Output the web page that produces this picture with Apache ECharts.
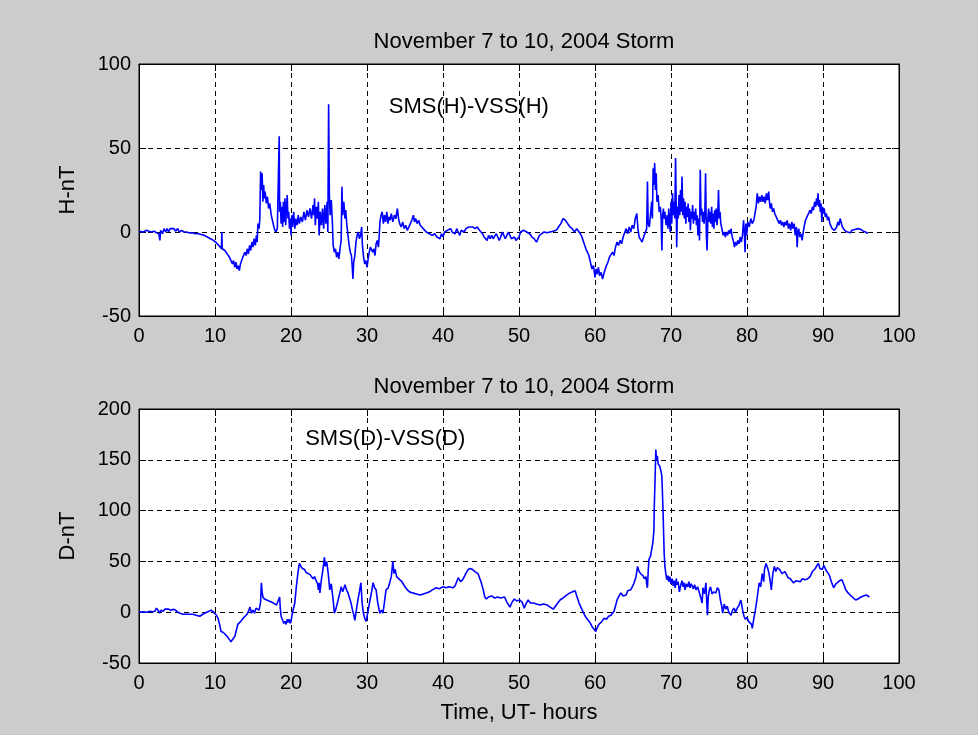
<!DOCTYPE html>
<html>
<head>
<meta charset="utf-8">
<script src="https://cdn.jsdelivr.net/npm/echarts@6/dist/echarts.min.js"></script>
<style>
html,body{margin:0;padding:0;background:#cccccc;}
#chart{width:978px;height:735px;}
</style>
</head>
<body>
<div id="chart"></div>
<script>
var chartTitle = 'November 7 to 10, 2004 Storm';
var xTitle = 'Time, UT- hours';
var hName = 'H-nT';
var dName = 'D-nT';
var hLabel = 'SMS(H)-VSS(H)';
var dLabel = 'SMS(D)-VSS(D)';
var hLabelAt = [43.4, 74.5];
var dLabelAt = [32.4, 171];

// [UT hours, nT]
var hSeries = [[0,0],[0.3,0.3],[0.6,0],[1,1],[1.3,0.5],[1.6,0],[2,0.5],[2.3,-0.5],[2.6,-1],[2.75,-5],[2.85,1],[3.1,-1],[3.3,2],[3.5,0],[3.7,2],[3.9,0],[4.1,2],[4.3,1],[4.6,2],[4.8,0.5],[5.1,2],[5.3,0],[5.6,1],[5.9,0],[6.2,0],[6.6,-0.5],[7,-0.5],[7.4,-1],[7.8,-1],[8.2,-1.5],[8.6,-2],[9,-3],[9.4,-4],[9.8,-5],[10.2,-6.5],[10.6,-8.5],[10.85,-10],[10.9,0],[10.95,-10],[11.3,-11],[11.6,-13],[11.9,-15],[12.1,-17],[12.3,-19],[12.45,-17],[12.6,-21],[12.75,-18],[12.9,-22],[13.05,-20],[13.2,-23],[13.35,-19],[13.5,-18],[13.65,-15],[13.8,-16],[13.95,-12],[14.1,-14],[14.25,-10],[14.4,-13],[14.55,-8],[14.7,-11],[14.85,-6],[15,-9],[15.15,-4],[15.3,-8],[15.45,-2],[15.55,-6],[15.65,5],[15.8,2],[15.9,8],[16.0,36],[16.1,25],[16.2,35],[16.3,18],[16.4,28],[16.5,20],[16.6,24],[16.75,17],[16.9,21],[17.05,14],[17.2,17],[17.4,10],[17.6,6],[17.8,2],[18.0,0],[18.2,2],[18.35,1],[18.45,57],[18.5,12],[18.6,18],[18.7,5],[18.8,15],[18.9,3],[19.0,18],[19.1,6],[19.2,20],[19.3,4],[19.4,15],[19.5,22],[19.6,8],[19.7,12],[19.8,2],[19.9,8],[20,-2],[20.1,10],[20.2,3],[20.35,12],[20.5,2],[20.65,8],[20.8,4],[20.95,10],[21.1,5],[21.3,9],[21.5,6],[21.7,12],[21.9,7],[22.1,13],[22.3,9],[22.5,14],[22.7,8],[22.9,16],[23.0,10],[23.1,20],[23.2,4],[23.35,15],[23.5,8],[23.6,18],[23.7,-2],[23.85,12],[24,4],[24.15,14],[24.3,2],[24.45,16],[24.6,5],[24.75,18],[24.85,0],[24.95,76],[25.05,22],[25.15,10],[25.3,19],[25.45,5],[25.55,-8],[25.7,-12],[25.85,-10],[26.0,-15],[26.15,-12],[26.3,-16],[26.45,-10],[26.6,-5],[26.7,27],[26.8,10],[26.95,18],[27.1,8],[27.2,13],[27.35,4],[27.5,-2],[27.65,-8],[27.8,-12],[27.95,-14],[28.05,-20],[28.15,-28],[28.25,-18],[28.4,-14],[28.55,-6],[28.7,-2],[28.85,0],[29,-4],[29.15,-2],[29.3,3],[29.4,-8],[29.55,-15],[29.7,-19],[29.85,-17],[30,-21],[30.15,-16],[30.3,-12],[30.45,-9],[30.6,-8],[30.75,-12],[30.9,-10],[31.05,-14],[31.2,-7],[31.35,-5],[31.5,-9],[31.6,-3],[31.7,6],[31.85,10],[32,12],[32.15,5],[32.3,10],[32.45,6],[32.6,12],[32.75,5],[32.9,9],[33.05,7],[33.2,11],[33.4,6],[33.6,10],[33.8,8],[34,14],[34.15,8],[34.3,5],[34.5,3],[34.7,6],[34.9,2],[35.1,4],[35.3,1],[35.5,3],[35.7,5],[35.9,7],[36.1,10],[36.25,6],[36.4,8],[36.6,5],[36.8,7],[37,4],[37.2,5],[37.4,2],[37.6,3],[37.8,0],[38,1],[38.2,-1],[38.4,0],[38.6,-2],[38.9,-1],[39.2,-3],[39.4,-2],[39.6,-4],[39.8,-1],[40,-3],[40.2,0],[40.4,-1],[40.6,1],[40.8,0],[41,2],[41.2,0],[41.4,1],[41.6,-1],[41.8,2],[42,0],[42.2,-2],[42.4,1],[42.6,2],[42.8,0],[43,2],[43.2,1],[43.4,3],[43.6,2],[43.9,3],[44.2,2],[44.5,3],[44.8,1],[45,2],[45.2,-1],[45.4,-3],[45.6,-2],[45.8,-5],[46,-2],[46.2,-4],[46.4,-2],[46.6,-4],[46.8,-3],[47,-1],[47.2,-3],[47.4,-5],[47.6,-3],[47.8,0],[48,-2],[48.2,-4],[48.4,-3],[48.6,0],[48.8,-2],[49,-4],[49.2,-5],[49.4,-3],[49.6,-5],[49.8,-4],[50,-3],[50.2,0],[50.4,-1],[50.6,1],[50.8,2],[51,0],[51.2,1],[51.4,-1],[51.7,-3],[52,-4],[52.3,-6],[52.5,-5],[52.7,-2],[53,-1],[53.3,0],[53.7,-0.5],[54.1,0],[54.5,0.5],[54.9,1],[55.2,3],[55.5,5],[55.8,8],[56.1,7],[56.4,5],[56.7,3],[57,2],[57.3,0],[57.6,2],[57.9,0],[58.2,-2],[58.5,-6],[58.8,-10],[59,-12],[59.2,-14],[59.4,-18],[59.6,-22],[59.8,-20],[60,-27],[60.15,-22],[60.3,-25],[60.45,-21],[60.6,-26],[60.8,-24],[61,-28],[61.15,-25],[61.3,-26],[61.5,-20],[61.7,-18],[61.9,-15],[62.1,-16],[62.3,-12],[62.5,-14],[62.7,-9],[62.9,-6],[63.1,-8],[63.3,-5],[63.5,-7],[63.7,-3],[63.9,-4],[64.1,2],[64.3,-1],[64.5,3],[64.7,0],[64.9,4],[65.1,2],[65.3,8],[65.5,11],[65.65,2],[65.8,-3],[66,-4],[66.2,-6],[66.4,-3],[66.6,-2],[66.8,2],[66.9,30],[67.0,5],[67.15,3],[67.3,10],[67.45,18],[67.55,8],[67.65,38],[67.75,28],[67.85,41],[67.95,25],[68.05,35],[68.15,18],[68.3,22],[68.45,12],[68.6,15],[68.7,8],[68.8,-11],[68.9,10],[69.0,14],[69.1,8],[69.2,12],[69.35,4],[69.5,10],[69.6,2],[69.7,14],[69.8,6],[69.9,0],[70,18],[70.1,5],[70.2,23],[70.3,10],[70.4,18],[70.5,8],[70.6,44],[70.7,12],[70.75,-9],[70.85,15],[70.95,8],[71.05,22],[71.15,10],[71.25,25],[71.35,12],[71.45,33],[71.55,10],[71.65,20],[71.75,8],[71.85,18],[71.95,5],[72.05,15],[72.15,9],[72.25,17],[72.35,6],[72.45,14],[72.55,1],[72.65,12],[72.75,8],[72.85,16],[72.95,5],[73.05,12],[73.15,7],[73.25,14],[73.35,4],[73.45,10],[73.55,-2],[73.65,8],[73.75,-5],[73.85,37],[73.95,10],[74.05,14],[74.15,6],[74.25,12],[74.35,5],[74.45,10],[74.55,35],[74.65,-2],[74.75,-11],[74.85,8],[74.95,14],[75.05,6],[75.15,12],[75.25,5],[75.35,15],[75.45,3],[75.55,11],[75.65,2],[75.75,13],[75.85,6],[75.95,14],[76.05,4],[76.15,10],[76.25,25],[76.35,8],[76.45,12],[76.55,5],[76.7,2],[76.85,-2],[77,0],[77.15,-3],[77.3,0],[77.45,-2],[77.6,1],[77.75,-1],[77.9,2],[78.05,-3],[78.2,-5],[78.35,-9],[78.5,-6],[78.65,-8],[78.8,-5],[78.95,-7],[79.1,-3],[79.25,-6],[79.4,-2],[79.55,7],[79.65,0],[79.75,-12],[79.85,5],[79.95,-2],[80.1,6],[80.3,3],[80.5,8],[80.7,5],[80.9,7],[81.05,6],[81.2,15],[81.35,23],[81.5,17],[81.65,21],[81.8,18],[81.95,22],[82.1,18],[82.25,21],[82.4,17],[82.55,23],[82.7,19],[82.85,24],[82.95,18],[83.05,14],[83.2,17],[83.35,12],[83.5,14],[83.65,11],[83.8,12],[83.95,8],[84.1,9],[84.25,5],[84.4,7],[84.55,4],[84.7,6],[84.85,3],[85,6],[85.15,4],[85.3,7],[85.45,2],[85.6,5],[85.75,1],[85.9,6],[86.05,2],[86.2,5],[86.35,-2],[86.5,3],[86.6,-9],[86.7,0],[86.8,2],[86.95,-3],[87.1,-1],[87.25,-5],[87.4,0],[87.55,4],[87.7,7],[87.85,6],[88,10],[88.15,9],[88.3,13],[88.45,11],[88.6,15],[88.75,13],[88.9,18],[89.05,15],[89.15,20],[89.25,16],[89.35,23],[89.45,15],[89.55,19],[89.65,12],[89.75,17],[89.85,6],[89.95,15],[90.05,11],[90.15,14],[90.3,9],[90.45,11],[90.6,7],[90.75,9],[90.9,5],[91.05,6],[91.2,2],[91.35,3],[91.5,1],[91.65,2],[91.8,3],[91.95,6],[92.1,4],[92.25,8],[92.4,9],[92.55,3],[92.7,4],[92.85,1],[93,2],[93.2,0],[93.4,1],[93.6,-0.5],[93.8,1],[94,0],[94.2,1.5],[94.4,1],[94.6,2],[94.8,1],[95,1.5],[95.3,0.5],[95.6,0],[95.9,-1]];

var dSeries = [[0,0],[0.5,0.5],[1,0],[1.4,1],[1.8,0.5],[2.1,1],[2.3,4],[2.5,2],[2.7,-1],[2.9,2],[3.2,1],[3.4,3],[3.6,2],[3.9,3],[4.2,2],[4.5,3],[4.8,2],[5.1,0],[5.4,-1],[5.8,-2],[6.2,-2],[6.6,-2],[7.1,-2],[7.5,-3],[8,-4],[8.4,-2],[8.9,0],[9.2,1],[9.5,2],[9.8,0],[10,-1],[10.2,-3],[10.4,-6],[10.6,-12],[10.8,-19],[11.1,-20],[11.3,-21],[11.5,-23],[11.7,-24],[11.9,-27],[12.1,-29],[12.3,-28],[12.6,-24],[12.8,-18],[13,-12],[13.2,-13],[13.4,-9],[13.6,-8],[13.8,-5],[14.1,-3],[14.3,-1],[14.6,5],[14.8,-1],[15,2],[15.2,-1],[15.4,4],[15.6,3],[15.8,2],[16,10],[16.1,29],[16.2,20],[16.3,15],[16.5,13],[16.8,12],[17.1,11],[17.4,10],[17.7,9],[18.1,7],[18.3,8],[18.5,15],[18.6,3],[18.7,-4],[18.9,-8],[19.05,-11],[19.2,-9],[19.35,-12],[19.5,-7],[19.6,-10],[19.75,-7],[19.9,-11],[20,-9],[20.2,0],[20.5,9],[20.7,25],[20.9,38],[21.1,48],[21.3,45],[21.5,43],[21.8,42],[22,39],[22.2,40],[22.5,37],[22.7,36],[22.9,33],[23.1,35],[23.3,31],[23.5,28],[23.6,22],[23.7,29],[23.8,19],[24,32],[24.2,42],[24.3,48],[24.4,54],[24.5,45],[24.7,50],[24.9,38],[25.1,22],[25.3,28],[25.5,15],[25.6,8],[25.7,-1],[25.9,3],[26.2,12],[26.4,18],[26.6,25],[26.8,20],[27.1,27],[27.3,22],[27.5,19],[27.7,14],[27.9,9],[28.1,2],[28.3,-4],[28.4,-8],[28.6,2],[28.8,12],[29,20],[29.2,29],[29.35,10],[29.5,0],[29.7,-6],[29.9,-9],[30.1,0],[30.4,12],[30.6,20],[30.8,29],[31,24],[31.2,22],[31.4,10],[31.6,2],[31.7,-1],[31.9,2],[32.1,-1],[32.3,10],[32.5,22],[32.8,24],[33,25],[33.2,35],[33.4,50],[33.55,38],[33.7,42],[33.9,35],[34.1,36],[34.3,32],[34.6,30],[35,25],[35.3,22],[35.6,20],[36,19],[36.5,18],[37,17],[37.4,18],[37.8,19],[38.2,20],[38.6,22],[39.1,24],[39.5,23],[40,25],[40.4,24],[40.8,25],[41.3,24],[41.6,26],[41.8,30],[42,34],[42.3,30],[42.6,32],[43,38],[43.3,42],[43.6,43],[43.9,42],[44.2,40],[44.6,38],[44.8,34],[45,30],[45.3,22],[45.5,15],[45.7,13],[46,15],[46.4,16],[46.8,14],[47.2,15],[47.6,14],[48.1,15],[48.4,10],[48.8,5],[49.1,10],[49.4,13],[49.7,11],[50.1,12],[50.4,10],[50.7,4],[50.9,8],[51.2,12],[51.5,9],[51.9,9],[52.3,8],[52.8,7],[53.2,8],[53.7,7],[54.1,5],[54.5,3],[54.9,7],[55.4,12],[55.8,14],[56.3,17],[56.7,19],[57,20],[57.4,21],[57.6,16],[57.9,9],[58.2,4],[58.5,-1],[58.8,-5],[59.2,-9],[59.4,-11],[59.6,-14],[59.8,-13],[60.1,-19],[60.3,-15],[60.5,-12],[60.8,-10],[61.2,-6],[61.5,-7],[61.8,-4],[62.1,-3],[62.5,1],[62.7,6],[62.9,12],[63.1,15],[63.4,19],[63.7,16],[64.1,17],[64.3,21],[64.5,20],[64.7,22],[64.9,25],[65.1,28],[65.4,35],[65.6,45],[65.8,40],[66,38],[66.3,36],[66.5,33],[66.7,35],[66.8,28],[66.9,24],[67.0,40],[67.1,52],[67.3,55],[67.6,68],[67.75,80],[67.8,104],[67.9,130],[68,160],[68.1,150],[68.2,154],[68.3,146],[68.5,144],[68.65,140],[68.8,134],[68.95,100],[69.1,58],[69.2,45],[69.3,39],[69.45,32],[69.6,36],[69.7,30],[69.85,35],[70,28],[70.15,33],[70.3,26],[70.4,31],[70.55,24],[70.7,33],[70.8,27],[70.95,30],[71.1,20],[71.3,27],[71.45,31],[71.6,25],[71.7,29],[71.85,22],[72,28],[72.2,25],[72.35,30],[72.5,24],[72.65,28],[72.8,29],[72.95,23],[73.1,27],[73.3,22],[73.5,25],[73.7,20],[73.9,20],[74.0,12],[74.1,9],[74.2,24],[74.4,18],[74.6,29],[74.7,10],[74.8,-3],[74.9,15],[75.05,22],[75.2,25],[75.4,18],[75.6,20],[75.9,19],[76.1,24],[76.3,22],[76.5,12],[76.7,5],[76.8,-1],[77,8],[77.2,3],[77.4,6],[77.6,0],[77.9,-3],[78.1,2],[78.3,4],[78.5,0],[78.7,4],[78.9,6],[79.1,10],[79.2,12],[79.4,3],[79.6,-4],[79.8,-7],[80,-5],[80.2,-9],[80.4,-8],[80.6,-12],[80.7,-16],[80.9,-6],[81.1,2],[81.3,12],[81.6,29],[81.8,25],[82,38],[82.2,30],[82.3,42],[82.5,48],[82.7,44],[82.9,38],[83.1,28],[83.2,22],[83.4,38],[83.6,45],[83.8,40],[84,44],[84.3,42],[84.6,38],[85,40],[85.2,37],[85.4,34],[85.7,33],[86.1,29],[86.5,31],[87,30],[87.3,33],[87.6,32],[88,33],[88.3,35],[88.6,40],[89,43],[89.2,46],[89.4,48],[89.6,43],[89.9,42],[90.1,46],[90.3,45],[90.5,40],[90.8,37],[91.1,30],[91.4,24],[91.7,28],[91.9,27],[92.2,31],[92.5,32],[92.8,26],[93,22],[93.3,19],[93.7,16],[94,14],[94.3,12],[94.6,13],[95,15],[95.3,16],[95.7,17],[96.1,15]];

var xTicks = {min:0, max:100, interval:10};
var hTicks = {min:-50, max:100, interval:50};
var dTicks = {min:-50, max:200, interval:50};

var FONT = '"Liberation Sans", Arial, sans-serif';
var dash = {show:true, lineStyle:{color:'#000', type:[5,4], width:1}};

function xAx(gi, withName){
  return {
    type:'value', gridIndex:gi, min:xTicks.min, max:xTicks.max, interval:xTicks.interval,
    axisLine:{show:true, onZero:false, lineStyle:{color:'#000', width:1}},
    axisTick:{show:true, inside:true, length:7, lineStyle:{color:'#000'}},
    axisLabel:{color:'#000', fontSize:20, fontFamily:FONT, margin:10},
    splitLine:dash,
    name: withName ? xTitle : '',
    nameLocation:'middle', nameGap:39,
    nameTextStyle:{color:'#000', fontSize:22, fontFamily:FONT}
  };
}
function xTop(gi){
  return {type:'value', gridIndex:gi, position:'top', min:xTicks.min, max:xTicks.max, interval:xTicks.interval,
    axisLine:{show:true, onZero:false, lineStyle:{color:'#000'}}, axisTick:{show:true, inside:true, length:7, lineStyle:{color:'#000'}},
    axisLabel:{show:false}, splitLine:{show:false}};
}
function yAx(gi, t, nm){
  return {
    type:'value', gridIndex:gi, min:t.min, max:t.max, interval:t.interval,
    axisLine:{show:true, onZero:false, lineStyle:{color:'#000', width:1}},
    axisTick:{show:true, inside:true, length:7, lineStyle:{color:'#000'}},
    axisLabel:{color:'#000', fontSize:20, fontFamily:FONT, margin:8},
    splitLine:dash,
    name:nm, nameLocation:'middle', nameGap:60, nameRotate:90,
    nameTextStyle:{color:'#000', fontSize:22, fontFamily:FONT}
  };
}
function yRight(gi, t){
  return {type:'value', gridIndex:gi, position:'right', min:t.min, max:t.max, interval:t.interval,
    axisLine:{show:true, onZero:false, lineStyle:{color:'#000'}}, axisTick:{show:true, inside:true, length:7, lineStyle:{color:'#000'}},
    axisLabel:{show:false}, splitLine:{show:false}};
}
function note(xi, at, txt){
  return {type:'scatter', xAxisIndex:xi, yAxisIndex:xi, symbolSize:1, data:[at], silent:true, z:10,
    itemStyle:{opacity:0}, 
    label:{show:true, position:'inside', formatter:txt, color:'#000', opacity:1, fontSize:22, fontFamily:FONT}};
}

var chart = echarts.init(document.getElementById('chart'), null, {renderer:'canvas'});
chart.setOption({
  backgroundColor:'#cccccc',
  animation:false,
  title:[
    {text:chartTitle, left:519, top:26, textAlign:'center', textStyle:{color:'#000', fontSize:22, fontWeight:'normal', fontFamily:FONT}},
    {text:chartTitle, left:519, top:371, textAlign:'center', textStyle:{color:'#000', fontSize:22, fontWeight:'normal', fontFamily:FONT}}
  ],
  grid:[
    {left:139, top:64, width:760, height:252, show:true, backgroundColor:'#fff', borderColor:'#000', borderWidth:1},
    {left:139, top:409, width:760, height:254, show:true, backgroundColor:'#fff', borderColor:'#000', borderWidth:1}
  ],
  xAxis:[xAx(0,false), xAx(1,true), xTop(0), xTop(1)],
  yAxis:[yAx(0,hTicks,hName), yAx(1,dTicks,dName), yRight(0,hTicks), yRight(1,dTicks)],
  series:[
    {type:'line', xAxisIndex:0, yAxisIndex:0, data:hSeries, showSymbol:false, symbol:'none',
     lineStyle:{color:'#0000ff', width:1.6}, z:5},
    {type:'line', xAxisIndex:1, yAxisIndex:1, data:dSeries, showSymbol:false, symbol:'none',
     lineStyle:{color:'#0000ff', width:1.6}, z:5},
    note(0, hLabelAt, hLabel),
    note(1, dLabelAt, dLabel)
  ]
});
</script>
</body>
</html>
